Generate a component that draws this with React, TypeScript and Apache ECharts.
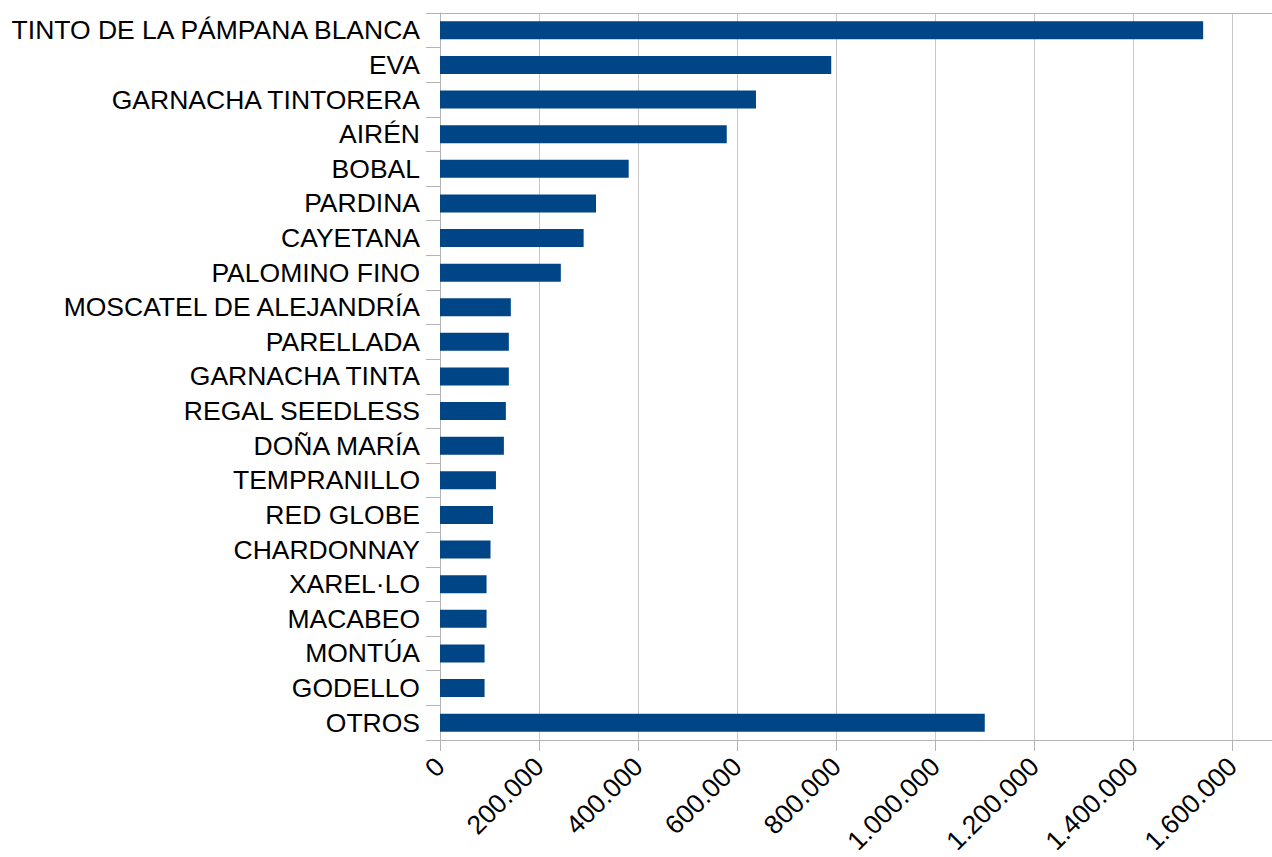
import React, { useEffect, useRef } from "react";
import * as echarts from "echarts";

const categories = [
  "TINTO DE LA PÁMPANA BLANCA",
  "EVA",
  "GARNACHA TINTORERA",
  "AIRÉN",
  "BOBAL",
  "PARDINA",
  "CAYETANA",
  "PALOMINO FINO",
  "MOSCATEL DE ALEJANDRÍA",
  "PARELLADA",
  "GARNACHA TINTA",
  "REGAL SEEDLESS",
  "DOÑA MARÍA",
  "TEMPRANILLO",
  "RED GLOBE",
  "CHARDONNAY",
  "XAREL·LO",
  "MACABEO",
  "MONTÚA",
  "GODELLO",
  "OTROS",
];

const values = [
  1541000, 790000, 638000, 579000, 381000, 315000, 290000, 244000, 143000,
  139000, 139000, 133000, 129000, 113000, 107000, 102000, 94000, 94000, 90000,
  90000, 1100000,
];

const xMin = 0;
const xMax = 1680000;
const xInterval = 200000;

function fmt(v: number): string {
  return String(Math.round(v)).replace(/\B(?=(\d{3})+(?!\d))/g, ".");
}

export default function App() {
  const ref = useRef<HTMLDivElement>(null);
  useEffect(() => {
    if (!ref.current) return;
    const chart = echarts.init(ref.current, undefined, { renderer: "svg" });
    const font = "Liberation Sans, Arial, sans-serif";
    chart.setOption({
      animation: false,
      backgroundColor: "#ffffff",
      textStyle: { fontFamily: font },
      grid: { left: 440, top: 13, right: 0, bottom: 116, containLabel: false },
      xAxis: [
        {
          type: "value",
          position: "bottom",
          min: xMin,
          max: xMax,
          interval: xInterval,
          axisLine: { show: true, lineStyle: { color: "#b3b3b3", width: 1 } },
          axisTick: { show: true, length: 11, lineStyle: { color: "#b3b3b3" } },
          splitLine: {
            show: true,
            showMaxLine: false,
            lineStyle: { color: "#c8c8c8", width: 1 },
          },
          axisLabel: {
            rotate: 45,
            fontSize: 26.5,
            color: "#000000",
            fontFamily: font,
            margin: 22,
            showMaxLabel: false,
            formatter: (v: number) => fmt(v),
          },
        },
        {
          type: "value",
          position: "top",
          min: xMin,
          max: xMax,
          interval: xInterval,
          axisLine: { show: true, lineStyle: { color: "#b3b3b3", width: 1 } },
          axisTick: { show: false },
          splitLine: { show: false },
          axisLabel: { show: false },
        },
      ],
      yAxis: {
        type: "category",
        inverse: true,
        data: categories,
        axisLine: { show: true, lineStyle: { color: "#b3b3b3", width: 1 } },
        axisTick: { show: true, length: 14, interval: 0, lineStyle: { color: "#b3b3b3" } },
        axisLabel: {
          fontSize: 26.5,
          color: "#000000",
          fontFamily: font,
          margin: 20,
          interval: 0,
        },
        splitLine: { show: false },
      },
      series: [
        {
          type: "bar",
          data: values,
          xAxisIndex: 0,
          barWidth: "52%",
          itemStyle: { color: "#004586" },
        },
      ],
    });
    return () => chart.dispose();
  }, []);
  return (
    <div
      ref={ref}
      style={{ position: "fixed", left: 0, top: 0, width: 1272, height: 857 }}
    />
  );
}
